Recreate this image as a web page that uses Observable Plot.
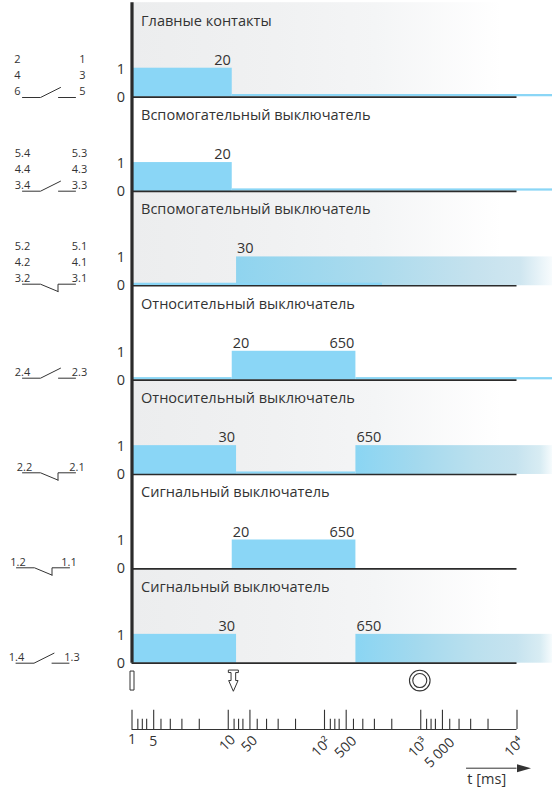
<!DOCTYPE html>
<html><head><meta charset="utf-8">
<script src="https://cdn.jsdelivr.net/npm/d3@7"></script>
<script src="https://cdn.jsdelivr.net/npm/@observablehq/plot@0.6"></script>
<style>
body{margin:0;background:#fff}
#c{position:relative;width:552px;height:788px;overflow:hidden}
#c svg{position:absolute;left:0;top:0;background:transparent}
</style></head><body><div id="c"></div>
<script>
const FONT = '"Open Sans", sans-serif';
const INK = "#333333", BLUE = "#8ad6f6";
// readings on the printed (non-proportional) time axis
const T20 = 11, T30 = 12.2, T650 = 212, TEND = 23400;
const rowTitles = ["Главные контакты","Вспомогательный выключатель","Вспомогательный выключатель","Относительный выключатель","Относительный выключатель","Сигнальный выключатель","Сигнальный выключатель"];
const shaded = [true,false,true,false,true,false,true];
const highSpans = [[[1,T20]],[[1,T20]],[[T30,TEND]],[[T20,T650]],[[1,T30],[T650,TEND]],[[T20,T650]],[[1,T30],[T650,TEND]]];
const lowSpans  = [[[T20,TEND]],[[T20,TEND]],[[1,400]],[[1,T20],[T650,TEND]],[[T30,T650]],[],[]];
const timeLabels = [[[T20,"20","end"]],[[T20,"20","end"]],[[T30,"30","start"]],[[T20,"20","start"],[T650,"650","end"]],[[T30,"30","end"],[T650,"650","start"]],[[T20,"20","start"],[T650,"650","end"]],[[T30,"30","end"],[T650,"650","start"]]];
const tickDecades = [1,10,100,1000];
const tickMultipliers = [1,1.15,1.28,1.42,1.68,2,2.5,3.3,5];
const tallMultipliers = [1,1.68];
const axisLabelText = ["1","5","10","50","10²","500","10³","5 000","10⁴"];
const axisLabelX = [1,1.66,9.8,16.6,93,166,940,1570,9400];
const axisLabelY = [-2.72,-2.8,-2.85,-2.88,-3,-3,-3.02,-3.2,-3];
const axisLabelAngle = [0,0,-45,-45,-45,-45,-45,-45,-45];

const STEP = 3.37, UNIT = 28, BASE_PX = 662.7, LEVEL_ONE = 1.03;
const baseOf = i => (6-i)*STEP;
const AXIS_Y = -2.37, TICK_TALL = -1.68, TICK_MID = -2.0, ICON_Y = -0.62, ARROW_Y = -3.75, UNIT_Y = -4.15;

const rows = rowTitles.map((title,i)=>({title,i,base:baseOf(i),shaded:shaded[i]}));
const high = rows.flatMap(r=>highSpans[r.i].map(([a,b])=>({a,b,y1:r.base,y2:r.base+LEVEL_ONE,fill:b===TEND?(r.i===2?"url(#fadeLong)":"url(#fadeShort)"):BLUE})));
const low = rows.flatMap(r=>lowSpans[r.i].map(([a,b])=>({a,b,y1:r.base+0.01,y2:r.base+0.09})));
const tLabels = rows.flatMap(r=>timeLabels[r.i].map(([x,text,anchor])=>({x,text,anchor,y:r.base+LEVEL_ONE})));
const ticks = tickDecades.flatMap(d=>tickMultipliers.map(m=>({x:d*m,tall:tallMultipliers.includes(m)}))).concat([{x:10000,tall:true}]);
const axisLabels = axisLabelText.map((t,i)=>({t,x:axisLabelX[i],y:axisLabelY[i],a:axisLabelAngle[i]}));

const buttonSymbol = {draw(c){
  c.moveTo(-5,-10.5);c.lineTo(5,-10.5);c.lineTo(5,-8);c.lineTo(2.3,-8);c.lineTo(2.3,0);c.lineTo(4.7,0);
  c.lineTo(0,10.7);c.lineTo(-4.7,0);c.lineTo(-2.3,0);c.lineTo(-2.3,-8);c.lineTo(-5,-8);c.closePath();}};
const barSymbol = {draw(c){c.rect(-2,-9.5,4,19);}};
const headSymbol = {draw(c){c.moveTo(0,-4);c.lineTo(14,0);c.lineTo(0,4);c.closePath();}};

function defs(){
  const NS="http://www.w3.org/2000/svg";
  const d=document.createElementNS(NS,"defs");
  const add=(id,stops)=>{const g=document.createElementNS(NS,"linearGradient");g.setAttribute("id",id);
    stops.forEach(([o,c])=>{const s=document.createElementNS(NS,"stop");s.setAttribute("offset",o);s.setAttribute("stop-color",c);g.appendChild(s);});d.appendChild(g);};
  add("shade",[[0,"#ecedee"],[0.34,"#f0f1f2"],[0.58,"#f4f5f6"],[0.88,"#ffffff"],[1,"#ffffff"]]);
  add("fadeLong",[[0,"#8fd4ef"],[0.45,"#acdbed"],[0.76,"#c6e2ee"],[0.9,"#cfe6f0"],[1,"#f7fbfd"]]);
  add("fadeShort",[[0,"#8ad5f3"],[0.31,"#a3d9ee"],[0.61,"#bbe0ee"],[0.82,"#c6e3ef"],[0.94,"#d8ecf3"],[1,"#f6fbfd"]]);
  return d;
}

const main = Plot.plot({
  width:552,height:788,margin:0,
  style:{fontFamily:FONT,background:"transparent",overflow:"visible"},
  x:{type:"log",domain:[1,10000],range:[131.5,516.5],axis:null},
  y:{domain:[-(788-BASE_PX)/UNIT,BASE_PX/UNIT],range:[788,0],axis:null},
  marks:[
    defs,
    Plot.rectY(rows.filter(r=>r.shaded),{x1:1,x2:TEND,y1:"base",y2:d=>d.base+STEP,fill:"url(#shade)"}),
    Plot.rect(high,{x1:"a",x2:"b",y1:"y1",y2:"y2",fill:"fill"}),
    Plot.rect(low,{x1:"a",x2:"b",y1:"y1",y2:"y2",fill:BLUE}),
    Plot.ruleY(rows,{y:"base",x1:1,x2:10000,stroke:"#2b2b2b",strokeWidth:1.7}),
    Plot.ruleX([1],{y1:0,y2:baseOf(0)+STEP,stroke:"#2b2b2b",strokeWidth:3.2}),
    Plot.text(rows,{x:1,y:d=>d.base+2.72,text:"title",textAnchor:"start",dx:9,fontSize:14.55,fill:INK}),
    Plot.text(rows,{x:1,y:d=>d.base+1,text:()=>"1",dx:-11,fontSize:14.5,fill:INK}),
    Plot.text(rows,{x:1,y:d=>d.base,text:()=>"0",dx:-11,fontSize:14.5,fill:INK}),
    ...["start","end"].map(anchor=>Plot.text(tLabels.filter(d=>d.anchor===anchor),{x:"x",y:"y",text:"text",textAnchor:anchor,lineAnchor:"bottom",dy:-3.5,dx:anchor==="start"?0.5:-1.5,fontSize:14.5,fill:INK})),
    // mechanism icons
    Plot.dot([1],{x:d=>d,y:ICON_Y,symbol:barSymbol,fill:"white",stroke:INK,strokeWidth:1}),
    Plot.dot([11.3],{x:d=>d,y:ICON_Y,symbol:buttonSymbol,fill:"white",stroke:INK,strokeWidth:1}),
    Plot.dot([977],{x:d=>d,y:ICON_Y,r:10.3,fill:"white",stroke:INK,strokeWidth:1.1}),
    Plot.dot([977],{x:d=>d,y:ICON_Y,r:7,fill:"white",stroke:INK,strokeWidth:1.1}),
    // time axis
    Plot.ruleY([AXIS_Y],{x1:1,x2:10000,stroke:INK,strokeWidth:1.1}),
    Plot.ruleX(ticks,{x:"x",y1:AXIS_Y,y2:d=>d.tall?TICK_TALL:TICK_MID,stroke:INK,strokeWidth:1.1}),
    ...[0,-45].map(a=>Plot.text(axisLabels.filter(d=>d.a===a),{x:"x",y:"y",text:"t",rotate:a,fontSize:14,fill:INK})),
    Plot.ruleY([ARROW_Y],{x1:2990,x2:10000,stroke:INK,strokeWidth:1}),
    Plot.dot([10000],{x:d=>d,y:ARROW_Y,symbol:headSymbol,fill:INK,stroke:"none"}),
    Plot.text(["t [ms]"],{x:3050,y:UNIT_Y,text:d=>d,textAnchor:"start",fontSize:14.5,fill:INK})
  ]
});
document.getElementById("c").appendChild(main);

// contact schematics (own drawing units, one per row)
const contactOpen  = [[[0,0],[18,0],[38,-10]],[[36,0],[53,0]]];
const contactBreak = [[[0,0],[18,0],[35.5,7.3]],[[35.5,7.3],[35.5,0],[53,0]]];
const contactX = [22,22,22,22,22,16,15.5];
const contactY = [97,190.7,283.7,377.7,472.3,567.3,662.7];
const contactOpenFlag = [true,true,false,true,false,false,true];
const termLeft = [["2","4","6"],["5.4","4.4","3.4"],["5.2","4.2","3.2"],["2.4"],["2.2"],["1.2"],["1.4"]];
const termRight = [["1","3","5"],["5.3","4.3","3.3"],["5.1","4.1","3.1"],["2.3"],["2.1"],["1.1"],["1.3"]];
const termLeftX = [17,22,22,22,24,17.5,16];
const termRightX = [82,79,79,79,76.5,68.5,71.5];
const termLastY = [91,185,277.7,371.7,467,562,657];
const termGap = 16;

const wires = contactX.flatMap((ox,i)=>(contactOpenFlag[i]?contactOpen:contactBreak).flatMap((seg,k)=>seg.map(([px,py])=>({x:ox+px,y:contactY[i]+py,id:i+"-"+k}))));
const terms = termLeft.flatMap((list,i)=>list.map((t,j)=>({t,x:termLeftX[i],y:termLastY[i]-(list.length-1-j)*termGap})))
  .concat(termRight.flatMap((list,i)=>list.map((t,j)=>({t,x:termRightX[i],y:termLastY[i]-(list.length-1-j)*termGap}))));

const side = Plot.plot({
  width:130,height:788,margin:0,
  style:{fontFamily:FONT,background:"transparent"},
  x:{domain:[0,130],range:[0,130],axis:null},
  y:{domain:[0,788],range:[0,788],axis:null},
  marks:[
    Plot.line(wires,{x:"x",y:"y",z:"id",stroke:"#333",strokeWidth:1,curve:"linear"}),
    Plot.text(terms,{x:"x",y:"y",text:"t",fontSize:11,fill:INK})
  ]
});
document.getElementById("c").appendChild(side);
</script></body></html>
